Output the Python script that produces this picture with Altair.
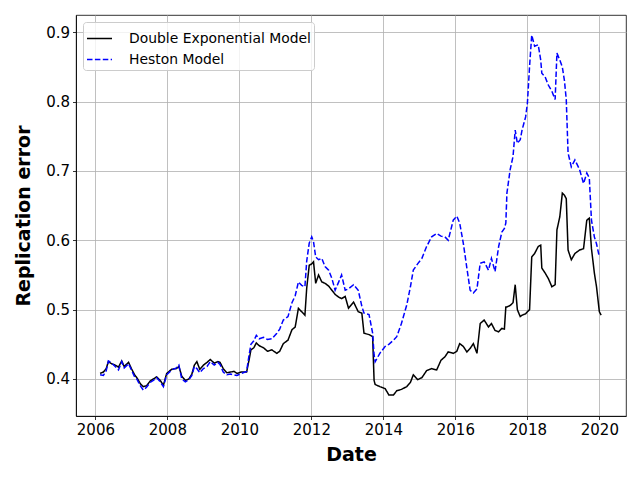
import altair as alt
import pandas as pd

# decimal-year dates
years = [
    2006.13, 2006.22, 2006.30, 2006.36, 2006.45, 2006.55, 2006.64, 2006.73, 2006.80, 2006.92,
    2007.00, 2007.10, 2007.15, 2007.25, 2007.33, 2007.42, 2007.52, 2007.61, 2007.70, 2007.80,
    2007.89, 2007.98, 2008.12, 2008.25, 2008.32, 2008.40, 2008.50, 2008.60, 2008.68, 2008.75,
    2008.82, 2008.90, 2009.00, 2009.10, 2009.19, 2009.30, 2009.40, 2009.46, 2009.55, 2009.65,
    2009.75, 2009.85, 2009.93, 2010.05, 2010.20, 2010.27, 2010.32, 2010.40, 2010.47, 2010.55,
    2010.67, 2010.78, 2010.90, 2011.04, 2011.12, 2011.22, 2011.35, 2011.46, 2011.55, 2011.64,
    2011.73, 2011.82, 2011.87, 2011.94, 2012.01, 2012.06, 2012.12, 2012.20, 2012.29, 2012.38,
    2012.48, 2012.57, 2012.66, 2012.76, 2012.84, 2012.94, 2013.03, 2013.17, 2013.30, 2013.40,
    2013.46, 2013.60, 2013.70, 2013.74, 2013.77, 2013.90, 2014.05, 2014.15, 2014.28, 2014.37,
    2014.50, 2014.65, 2014.75, 2014.83, 2014.95, 2015.07, 2015.20, 2015.34, 2015.48, 2015.60,
    2015.71, 2015.80, 2015.94, 2016.04, 2016.12, 2016.22, 2016.32, 2016.41, 2016.50, 2016.60,
    2016.69, 2016.80, 2016.92, 2017.00, 2017.10, 2017.20, 2017.29, 2017.36, 2017.40, 2017.43,
    2017.52, 2017.60, 2017.66, 2017.72, 2017.80, 2017.85, 2017.95, 2018.00, 2018.06, 2018.12,
    2018.20, 2018.30, 2018.37, 2018.40, 2018.49, 2018.58, 2018.68, 2018.77, 2018.82, 2018.90,
    2018.97, 2019.03, 2019.08, 2019.13, 2019.22, 2019.32, 2019.45, 2019.56, 2019.65, 2019.72,
    2019.78, 2019.86, 2019.92, 2020.00, 2020.05,
]

double_exp = [
    0.408, 0.410, 0.415, 0.425, 0.422, 0.420, 0.417, 0.426, 0.418, 0.424,
    0.415, 0.405, 0.402, 0.393, 0.389, 0.390, 0.397, 0.400, 0.403, 0.398,
    0.391, 0.408, 0.414, 0.415, 0.418, 0.404, 0.398, 0.400, 0.407, 0.420,
    0.425, 0.414, 0.420, 0.424, 0.428, 0.423, 0.425, 0.424, 0.415, 0.409,
    0.410, 0.411, 0.408, 0.410, 0.410, 0.428, 0.442, 0.445, 0.452, 0.448,
    0.445, 0.440, 0.442, 0.437, 0.440, 0.451, 0.456, 0.471, 0.475, 0.502,
    0.497, 0.492, 0.531, 0.564, 0.566, 0.569, 0.538, 0.550, 0.540, 0.538,
    0.534, 0.528, 0.522, 0.518, 0.516, 0.519, 0.502, 0.511, 0.497, 0.495,
    0.466, 0.464, 0.461, 0.398, 0.392, 0.389, 0.386, 0.377, 0.377, 0.383,
    0.385, 0.389, 0.395, 0.406, 0.399, 0.402, 0.412, 0.415, 0.413, 0.427,
    0.432, 0.439, 0.437, 0.440, 0.451, 0.447, 0.439, 0.444, 0.451, 0.437,
    0.480, 0.485, 0.475, 0.480, 0.470, 0.468, 0.473, 0.472, 0.504, 0.504,
    0.506, 0.510, 0.536, 0.500, 0.490, 0.492, 0.494, 0.497, 0.500, 0.576,
    0.581, 0.591, 0.593, 0.560, 0.553, 0.545, 0.533, 0.536, 0.615, 0.634,
    0.668, 0.665, 0.660, 0.586, 0.572, 0.581, 0.586, 0.588, 0.629, 0.632,
    0.588, 0.553, 0.533, 0.497, 0.492,
]

heston = [
    0.406, 0.405, 0.412, 0.426, 0.423, 0.418, 0.413, 0.425, 0.416, 0.422,
    0.413, 0.402, 0.400, 0.390, 0.384, 0.388, 0.395, 0.398, 0.402, 0.396,
    0.389, 0.406, 0.413, 0.416, 0.420, 0.400, 0.396, 0.399, 0.405, 0.418,
    0.415, 0.409, 0.415, 0.418, 0.425, 0.420, 0.424, 0.421, 0.410, 0.406,
    0.407, 0.406, 0.405, 0.408, 0.411, 0.435, 0.450, 0.455, 0.463, 0.458,
    0.460, 0.457, 0.458, 0.466, 0.472, 0.485, 0.490, 0.510, 0.520, 0.540,
    0.535, 0.533, 0.570, 0.596, 0.605, 0.598, 0.576, 0.572, 0.574, 0.562,
    0.557, 0.545, 0.528, 0.540, 0.550, 0.528, 0.530, 0.536, 0.528, 0.505,
    0.495, 0.493, 0.466, 0.435, 0.425, 0.437, 0.447, 0.450, 0.456, 0.461,
    0.480, 0.507, 0.533, 0.557, 0.566, 0.574, 0.591, 0.605, 0.610, 0.606,
    0.605, 0.600, 0.629, 0.635, 0.625, 0.596, 0.560, 0.528, 0.524, 0.530,
    0.567, 0.569, 0.557, 0.574, 0.555, 0.591, 0.612, 0.617, 0.625, 0.668,
    0.702, 0.721, 0.759, 0.740, 0.745, 0.759, 0.778, 0.798, 0.851, 0.896,
    0.880, 0.882, 0.860, 0.841, 0.836, 0.824, 0.815, 0.803, 0.870, 0.860,
    0.850, 0.830, 0.803, 0.726, 0.706, 0.716, 0.702, 0.682, 0.697, 0.690,
    0.629, 0.605, 0.595, 0.576, None,
]

series_names = ["Double Exponential Model", "Heston Model"]
y_ticks = [0.4, 0.5, 0.6, 0.7, 0.8, 0.9]
x_tick_years = [2006, 2008, 2010, 2012, 2014, 2016, 2018, 2020]


def to_date(y):
    base = pd.Timestamp(int(y), 1, 1)
    return base + pd.Timedelta(days=(y - int(y)) * 365.25)


rows = []
for name, vals in zip(series_names, [double_exp, heston]):
    for yr, v in zip(years, vals):
        if v is not None:
            rows.append({"date": to_date(yr), "value": v, "model": name})
df = pd.DataFrame(rows)

x_domain = [to_date(2005.46).isoformat(), to_date(2020.74).isoformat()]
x_tick_vals = [alt.DateTime(year=y, month=1, date=1) for y in x_tick_years]

chart = (
    alt.Chart(df)
    .mark_line(strokeWidth=1.5)
    .encode(
        x=alt.X(
            "date:T",
            title="Date",
            scale=alt.Scale(domain=x_domain, nice=False),
            axis=alt.Axis(values=x_tick_vals, format="%Y", labelFlush=False),
        ),
        y=alt.Y(
            "value:Q",
            title="Replication error",
            scale=alt.Scale(domain=[0.3466, 0.925], nice=False, zero=False),
            axis=alt.Axis(values=y_ticks, format=".1f"),
        ),
        color=alt.Color(
            "model:N",
            scale=alt.Scale(domain=series_names, range=["#000000", "#0000ff"]),
            legend=alt.Legend(title=None),
        ),
        strokeDash=alt.StrokeDash(
            "model:N",
            scale=alt.Scale(domain=series_names, range=[[1, 0], [5.5, 2.4]]),
            legend=alt.Legend(title=None),
        ),
    )
    .properties(
        width=550,
        height=401,
        autosize=alt.AutoSizeParams(type="none"),
        padding={"left": 68, "top": 7, "right": 6, "bottom": 56},
    )
    .configure(font="DejaVu Sans")
    .configure_view(stroke="#000000", strokeWidth=0.8)
    .configure_axis(
        grid=True,
        gridColor="#b0b0b0",
        gridWidth=0.8,
        domainColor="#000000",
        domainWidth=0.8,
        tickColor="#000000",
        tickWidth=0.8,
        tickSize=3.5,
        labelFont="DejaVu Sans",
        labelFontSize=15,
        labelColor="#000000",
        labelPadding=3,
        titleFont="DejaVu Sans",
        titleFontSize=19,
        titleFontWeight="bold",
        titleColor="#000000",
    )
    .configure_axisX(titlePadding=8)
    .configure_axisY(titlePadding=12)
    .configure_legend(
        orient="none",
        legendX=7,
        legendY=7,
        symbolType="stroke",
        symbolSize=625,
        symbolStrokeWidth=1.5,
        labelFont="DejaVu Sans",
        labelFontSize=13.9,
        labelColor="#000000",
        labelLimit=0,
        strokeColor="#cccccc",
        fillColor="rgba(255,255,255,0.8)",
        cornerRadius=3,
        padding=3,
        rowPadding=-4,
        labelOffset=16,
    )
)

chart.save("out.html", embed_options={"renderer": "svg", "actions": False})
